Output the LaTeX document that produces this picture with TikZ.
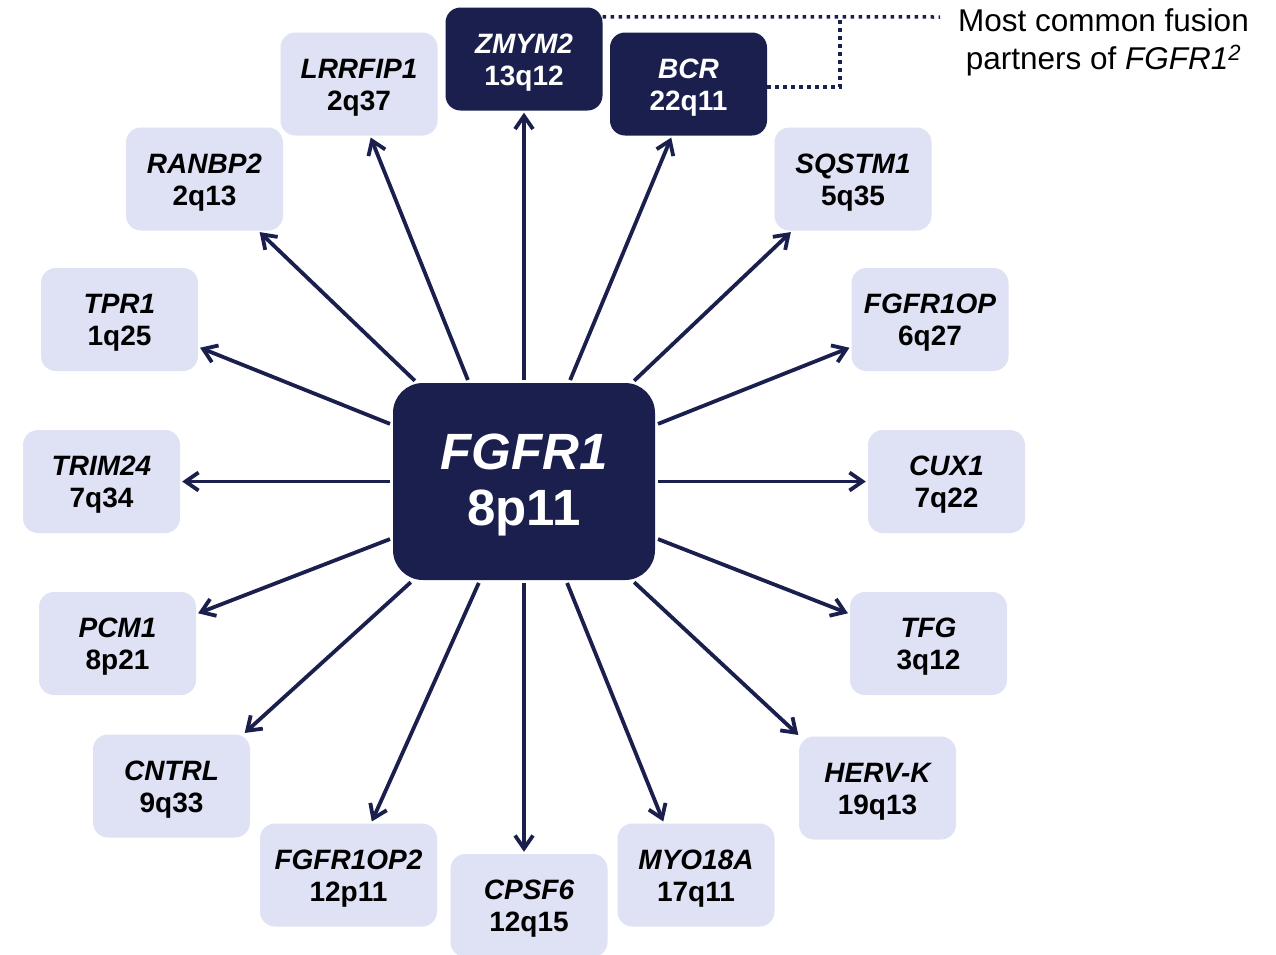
\documentclass[tikz,border=0pt]{standalone}
\usepackage{fontspec}
\setmainfont{Liberation Sans}
\usetikzlibrary{arrows.meta,calc}
\definecolor{navy}{HTML}{1B1F4D}
\definecolor{lav}{HTML}{DFE1F4}
\newcommand{\lift}{\rule{0pt}{26.5pt}}
\newcommand{\liftc}{\rule{0pt}{43pt}}
\begin{document}
\begin{tikzpicture}[x=1pt,y=-1pt,
  gbox/.style={rectangle, rounded corners=15pt, fill=lav, minimum width=157pt, minimum height=103pt, inner sep=0pt, align=center, font=\fontsize{28}{32}\selectfont\bfseries, text=black},
  dbox/.style={gbox, fill=navy, text=white},
  cbox/.style={rectangle, rounded corners=30pt, fill=navy, text=white, minimum width=262pt, minimum height=197pt, inner sep=0pt, align=center, font=\fontsize{51}{56}\selectfont\bfseries},
  arr/.style={draw=navy, line width=3.8pt, -{Straight Barb[length=13pt,width=18pt]}, shorten >=2pt, shorten <=3pt},
  dotl/.style={draw=navy, line width=3.5pt, dash pattern=on 3.5pt off 4.5pt}
]
\useasboundingbox (0,0) rectangle (1276,954);
\fill[white] (0,0) rectangle (1276,954);

\node[cbox] (c) at (524,481.5) {\liftc{\itshape FGFR1}\\8p11};

\node[dbox] (zmym2) at (524,59) {\lift{\itshape ZMYM2}\\13q12};
\node[dbox] (bcr) at (688.5,84) {\lift{\itshape BCR}\\22q11};
\node[gbox] (lrrfip1) at (359,84) {\lift{\itshape LRRFIP1}\\2q37};
\node[gbox] (ranbp2) at (204.5,179) {\lift{\itshape RANBP2}\\2q13};
\node[gbox] (sqstm1) at (853,179) {\lift{\itshape SQSTM1}\\5q35};
\node[gbox] (tpr1) at (119.5,319.5) {\lift{\itshape TPR1}\\1q25};
\node[gbox] (fgfr1op) at (930,319.5) {\lift{\itshape FGFR1OP}\\6q27};
\node[gbox] (trim24) at (101.5,481.5) {\lift{\itshape TRIM24}\\7q34};
\node[gbox] (cux1) at (946.5,481.5) {\lift{\itshape CUX1}\\7q22};
\node[gbox] (pcm1) at (117.5,643.5) {\lift{\itshape PCM1}\\8p21};
\node[gbox] (tfg) at (928.5,643.5) {\lift{\itshape TFG}\\3q12};
\node[gbox] (cntrl) at (171.5,786) {\lift{\itshape CNTRL}\\9q33};
\node[gbox] (hervk) at (877.5,788) {\lift{\itshape HERV-K}\\19q13};
\node[gbox, minimum width=177pt] (fgfr1op2) at (348.5,875) {\lift{\itshape FGFR1OP2}\\12p11};
\node[gbox] (cpsf6) at (529,905.5) {\lift{\itshape CPSF6}\\12q15};
\node[gbox] (myo18a) at (696,875) {\lift{\itshape MYO18A}\\17q11};

\node[align=center, inner sep=0pt, font=\fontsize{31.5}{38}\selectfont] (note) at (1103.5,42) {Most common fusion\\partners of \textit{FGFR1\textsuperscript{2}}};

% arrows: top
\draw[arr] (c.north) -- (zmym2.south);
\draw[arr] ($(c.north)+(45,0)$) -- ($(bcr.south)+(-16.5,0)$);
\draw[arr] ($(c.north)+(-55,0)$) -- ($(lrrfip1.south)+(11,0)$);
\draw[arr] ($(c.north)+(-107,0)$) -- ($(ranbp2.south east)+(-25,0)$);
\draw[arr] ($(c.north)+(108,0)$) -- ($(sqstm1.south west)+(18,0)$);
% sides
\draw[arr] ($(c.west)+(0,-56.5)$) -- ($(tpr1.east)+(0,27.5)$);
\draw[arr] ($(c.east)+(0,-56.5)$) -- ($(fgfr1op.west)+(0,27.5)$);
\draw[arr] (c.west) -- (trim24.east);
\draw[arr] (c.east) -- (cux1.west);
\draw[arr] ($(c.west)+(0,56.5)$) -- ($(pcm1.east)+(0,-29.5)$);
\draw[arr] ($(c.east)+(0,56.5)$) -- ($(tfg.west)+(0,-29.5)$);
% bottom
\draw[arr] ($(c.south)+(-111,0)$) -- ($(cntrl.north east)+(-7,0)$);
\draw[arr] ($(c.south)+(108,0)$) -- ($(hervk.north west)+(1,0)$);
\draw[arr] ($(c.south)+(-44,0)$) -- ($(fgfr1op2.north)+(22.5,0)$);
\draw[arr] (c.south) -- ($(cpsf6.north)+(-5,0)$);
\draw[arr] ($(c.south)+(42,0)$) -- ($(myo18a.north)+(-32,0)$);

% dotted callout
\coordinate (dotend) at (940,17);
\draw[dotl] ($(zmym2.north east)+(0,9.5)$) -- (dotend);
\draw[dotl] ($(bcr.east)+(0,3)$) -| (840,17);
\end{tikzpicture}
\end{document}
